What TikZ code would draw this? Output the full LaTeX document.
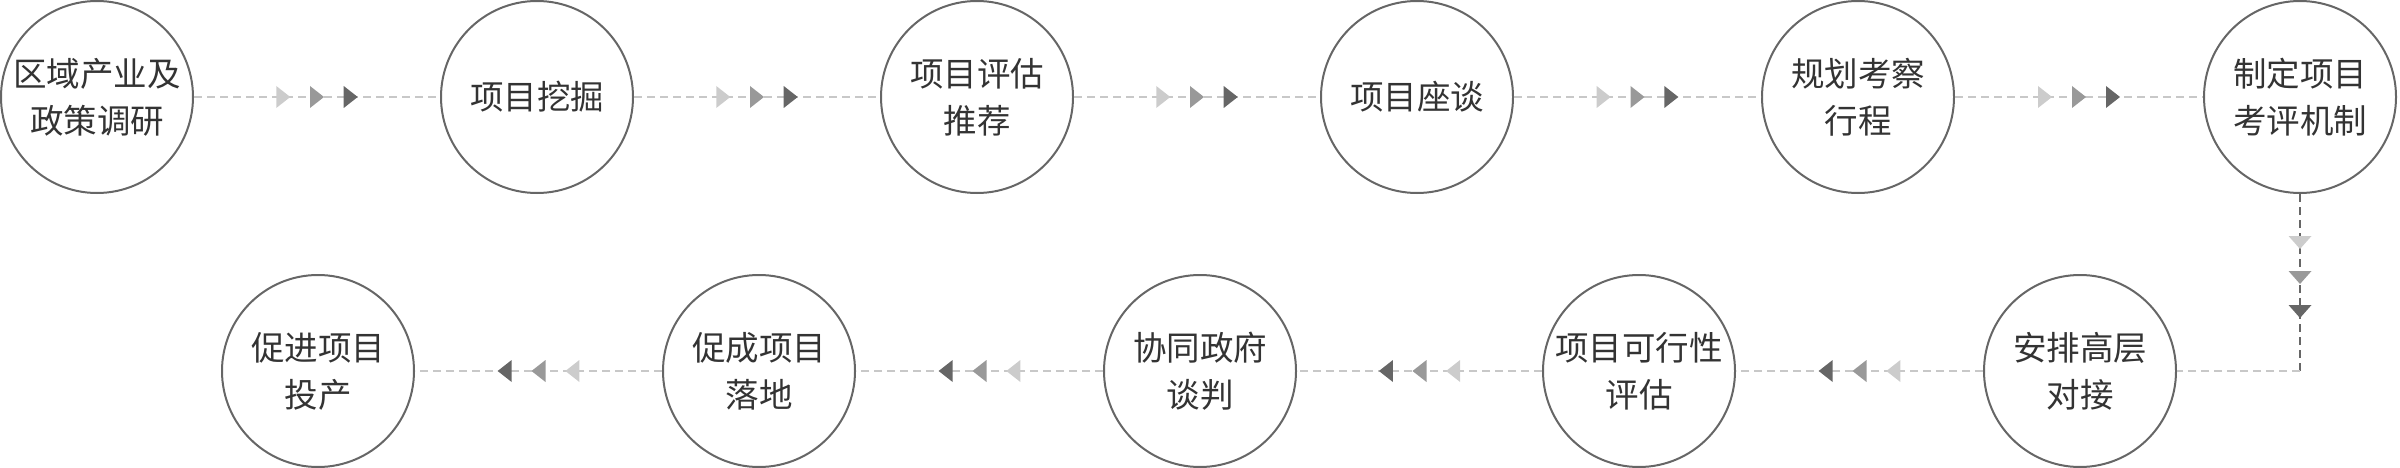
\documentclass[tikz,border=0pt]{standalone}
\usepackage{fontspec}
\setmainfont{Noto Sans CJK SC}
\usetikzlibrary{decorations.markings,calc}
\definecolor{cline}{HTML}{666666}
\definecolor{ctext}{HTML}{333333}
\definecolor{tlight}{HTML}{CCCCCC}
\definecolor{tmid}{HTML}{999999}
\definecolor{tdark}{HTML}{666666}
\definecolor{dashlight}{HTML}{C8C8C8}
\tikzset{
  stepcircle/.style={circle, draw=cline, line width=2pt, minimum size=192pt, inner sep=0pt,
    align=center, text=ctext, font=\fontsize{33.5pt}{47pt}\selectfont},
  tri/.style={fill=#1},
  flowline/.style={draw=dashlight, line width=2pt, dash pattern=on 8pt off 5pt,
    postaction=decorate, decoration={markings,
      mark=at position 0.5-34/#1 with {\fill[tlight] (-7pt,-11pt) -- (7pt,0pt) -- (-7pt,11pt) -- cycle;},
      mark=at position 0.5 with {\fill[tmid] (-7pt,-11pt) -- (7pt,0pt) -- (-7pt,11pt) -- cycle;},
      mark=at position 0.5+34/#1 with {\fill[tdark] (-7pt,-11pt) -- (7pt,0pt) -- (-7pt,11pt) -- cycle;}}},
  downline/.style={draw=cline, line width=2pt, dash pattern=on 8pt off 5pt,
    postaction=decorate, decoration={markings,
      mark=at position 55pt with {\fill[tlight] (-13pt,-11.5pt) -- (0pt,0pt) -- (-13pt,11.5pt) -- cycle;},
      mark=at position 90pt with {\fill[tmid] (-13pt,-11.5pt) -- (0pt,0pt) -- (-13pt,11.5pt) -- cycle;},
      mark=at position 124pt with {\fill[tdark] (-13pt,-11.5pt) -- (0pt,0pt) -- (-13pt,11.5pt) -- cycle;}}},
  plainline/.style={draw=dashlight, line width=2pt, dash pattern=on 8pt off 5pt}
}
\begin{document}
\begin{tikzpicture}[x=1pt,y=-1pt]
\useasboundingbox (0,0) rectangle (2400,468);
\node[stepcircle] (a) at (97,97) {区域产业及\\政策调研};
\node[stepcircle] (b) at (537,97) {项目挖掘};
\node[stepcircle] (c) at (977,97) {项目评估\\推荐};
\node[stepcircle] (d) at (1417,97) {项目座谈};
\node[stepcircle] (e) at (1858,97) {规划考察\\行程};
\node[stepcircle] (f) at (2300,97) {制定项目\\考评机制};
\node[stepcircle] (g) at (2080,371) {安排高层\\对接};
\node[stepcircle] (h) at (1639,371) {项目可行性\\评估};
\node[stepcircle] (i) at (1200,371) {协同政府\\谈判};
\node[stepcircle] (j) at (759,371) {促成项目\\落地};
\node[stepcircle] (k) at (318,371) {促进项目\\投产};
\coordinate (corner) at (f.south |- g.east);
\draw[flowline=248] (a.east) -- (b.west);
\draw[flowline=248] (b.east) -- (c.west);
\draw[flowline=248] (c.east) -- (d.west);
\draw[flowline=248] (d.east) -- (e.west);
\draw[flowline=248] (e.east) -- (f.west);
\draw[downline] (f.south) -- (corner);
\draw[plainline] (corner) -- (g.east);
\draw[flowline=248] (g.west) -- (h.east);
\draw[flowline=248] (h.west) -- (i.east);
\draw[flowline=248] (i.west) -- (j.east);
\draw[flowline=248] (j.west) -- (k.east);
\end{tikzpicture}
\end{document}
